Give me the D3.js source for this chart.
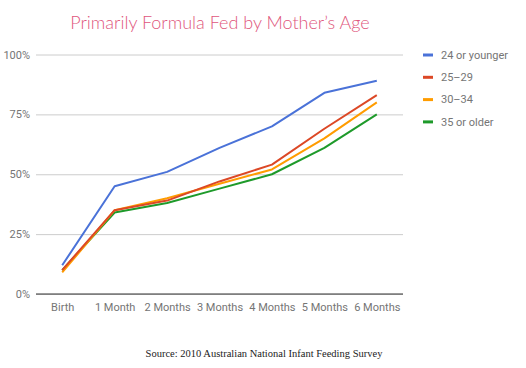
<!DOCTYPE html>
<html>
<head>
<meta charset="utf-8">
<script src="https://cdn.jsdelivr.net/npm/d3@7"></script>
<style>
  html, body { margin: 0; padding: 0; background: #fff; }
  svg { display: block; }
</style>
</head>
<body>
<svg id="chart" width="526" height="368"></svg>
<script>
const categories = ["Birth", "1 Month", "2 Months", "3 Months", "4 Months", "5 Months", "6 Months"];
const seriesNames = ["24 or younger", "25\u201329", "30\u201334", "35 or older"];
const young = [12, 45, 51, 61, 70, 84, 89];
const age25 = [10, 35, 39, 47, 54, 69, 83];
const age30 = [9, 35, 40, 46, 52, 65, 80];
const older = [10, 34, 38, 44, 50, 61, 75];
const yTicks = [0, 25, 50, 75, 100];
const colors = ["#4a72d8", "#dc4826", "#ff9c00", "#1e9a2a"];
const titleText = "Primarily Formula Fed by Mother\u2019s Age";
const sourceText = "Source: 2010 Australian National Infant Feeding Survey";

const series = [young, age25, age30, older].map((v, i) => ({ name: seriesNames[i], values: v, color: colors[i] }));

const svg = d3.select("#chart");
const plotLeft = 36, plotRight = 403, plotTop = 54.5, plotBottom = 294;

const x = d3.scalePoint().domain(categories).range([plotLeft, plotRight]).padding(0.5);
const y = d3.scaleLinear().domain([0, 100]).range([plotBottom, plotTop]);

// gridlines
svg.append("g")
  .attr("transform", `translate(${plotLeft},0)`)
  .call(d3.axisLeft(y).tickValues(yTicks).tickSize(-(plotRight - plotLeft)).tickFormat(d => d + "%"))
  .call(g => g.select(".domain").remove())
  .call(g => g.selectAll(".tick line").attr("stroke", "#cccccc").attr("stroke-width", 1))
  .call(g => g.selectAll(".tick text").attr("x", -6).attr("fill", "#757575")
    .style("font-family", "Roboto, sans-serif").style("font-size", "11px"));

// baseline
svg.append("line")
  .attr("x1", plotLeft).attr("x2", plotRight)
  .attr("y1", y(0)).attr("y2", y(0))
  .attr("stroke", "#333").attr("stroke-width", 1);

// x axis labels
svg.append("g")
  .attr("transform", `translate(0,${plotBottom})`)
  .call(d3.axisBottom(x).tickSize(0).tickPadding(9))
  .call(g => g.select(".domain").remove())
  .call(g => g.selectAll(".tick text").attr("fill", "#757575")
    .style("font-family", "Roboto, sans-serif").style("font-size", "11px"));

// lines
const line = d3.line().x((d, i) => x(categories[i])).y(d => y(d));
svg.append("g").selectAll("path")
  .data(series.slice().reverse())
  .join("path")
  .attr("d", d => line(d.values))
  .attr("fill", "none")
  .attr("stroke", d => d.color)
  .attr("stroke-width", 2)
  .attr("stroke-linejoin", "round");

// legend
const legend = svg.append("g").selectAll("g")
  .data(series)
  .join("g")
  .attr("transform", (d, i) => `translate(423,${55 + i * 22.3})`);
legend.append("line")
  .attr("x1", 0).attr("x2", 10).attr("y1", 0).attr("y2", 0)
  .attr("stroke", d => d.color).attr("stroke-width", 3);
legend.append("text")
  .attr("x", 18).attr("y", 0).attr("dy", "0.35em")
  .attr("fill", "#757575")
  .style("font-family", "Roboto, sans-serif").style("font-size", "11px")
  .text(d => d.name);

// title
svg.append("text")
  .attr("x", 220).attr("y", 29)
  .attr("text-anchor", "middle")
  .attr("fill", "#e0567c")
  .style("font-family", "Lato, sans-serif").style("font-weight", 300).style("font-size", "18px")
  .text(titleText);

// source
svg.append("text")
  .attr("x", 264).attr("y", 357)
  .attr("text-anchor", "middle")
  .attr("fill", "#222")
  .style("font-family", "'Liberation Serif', serif").style("font-size", "10.5px")
  .text(sourceText);
</script>
</body>
</html>
